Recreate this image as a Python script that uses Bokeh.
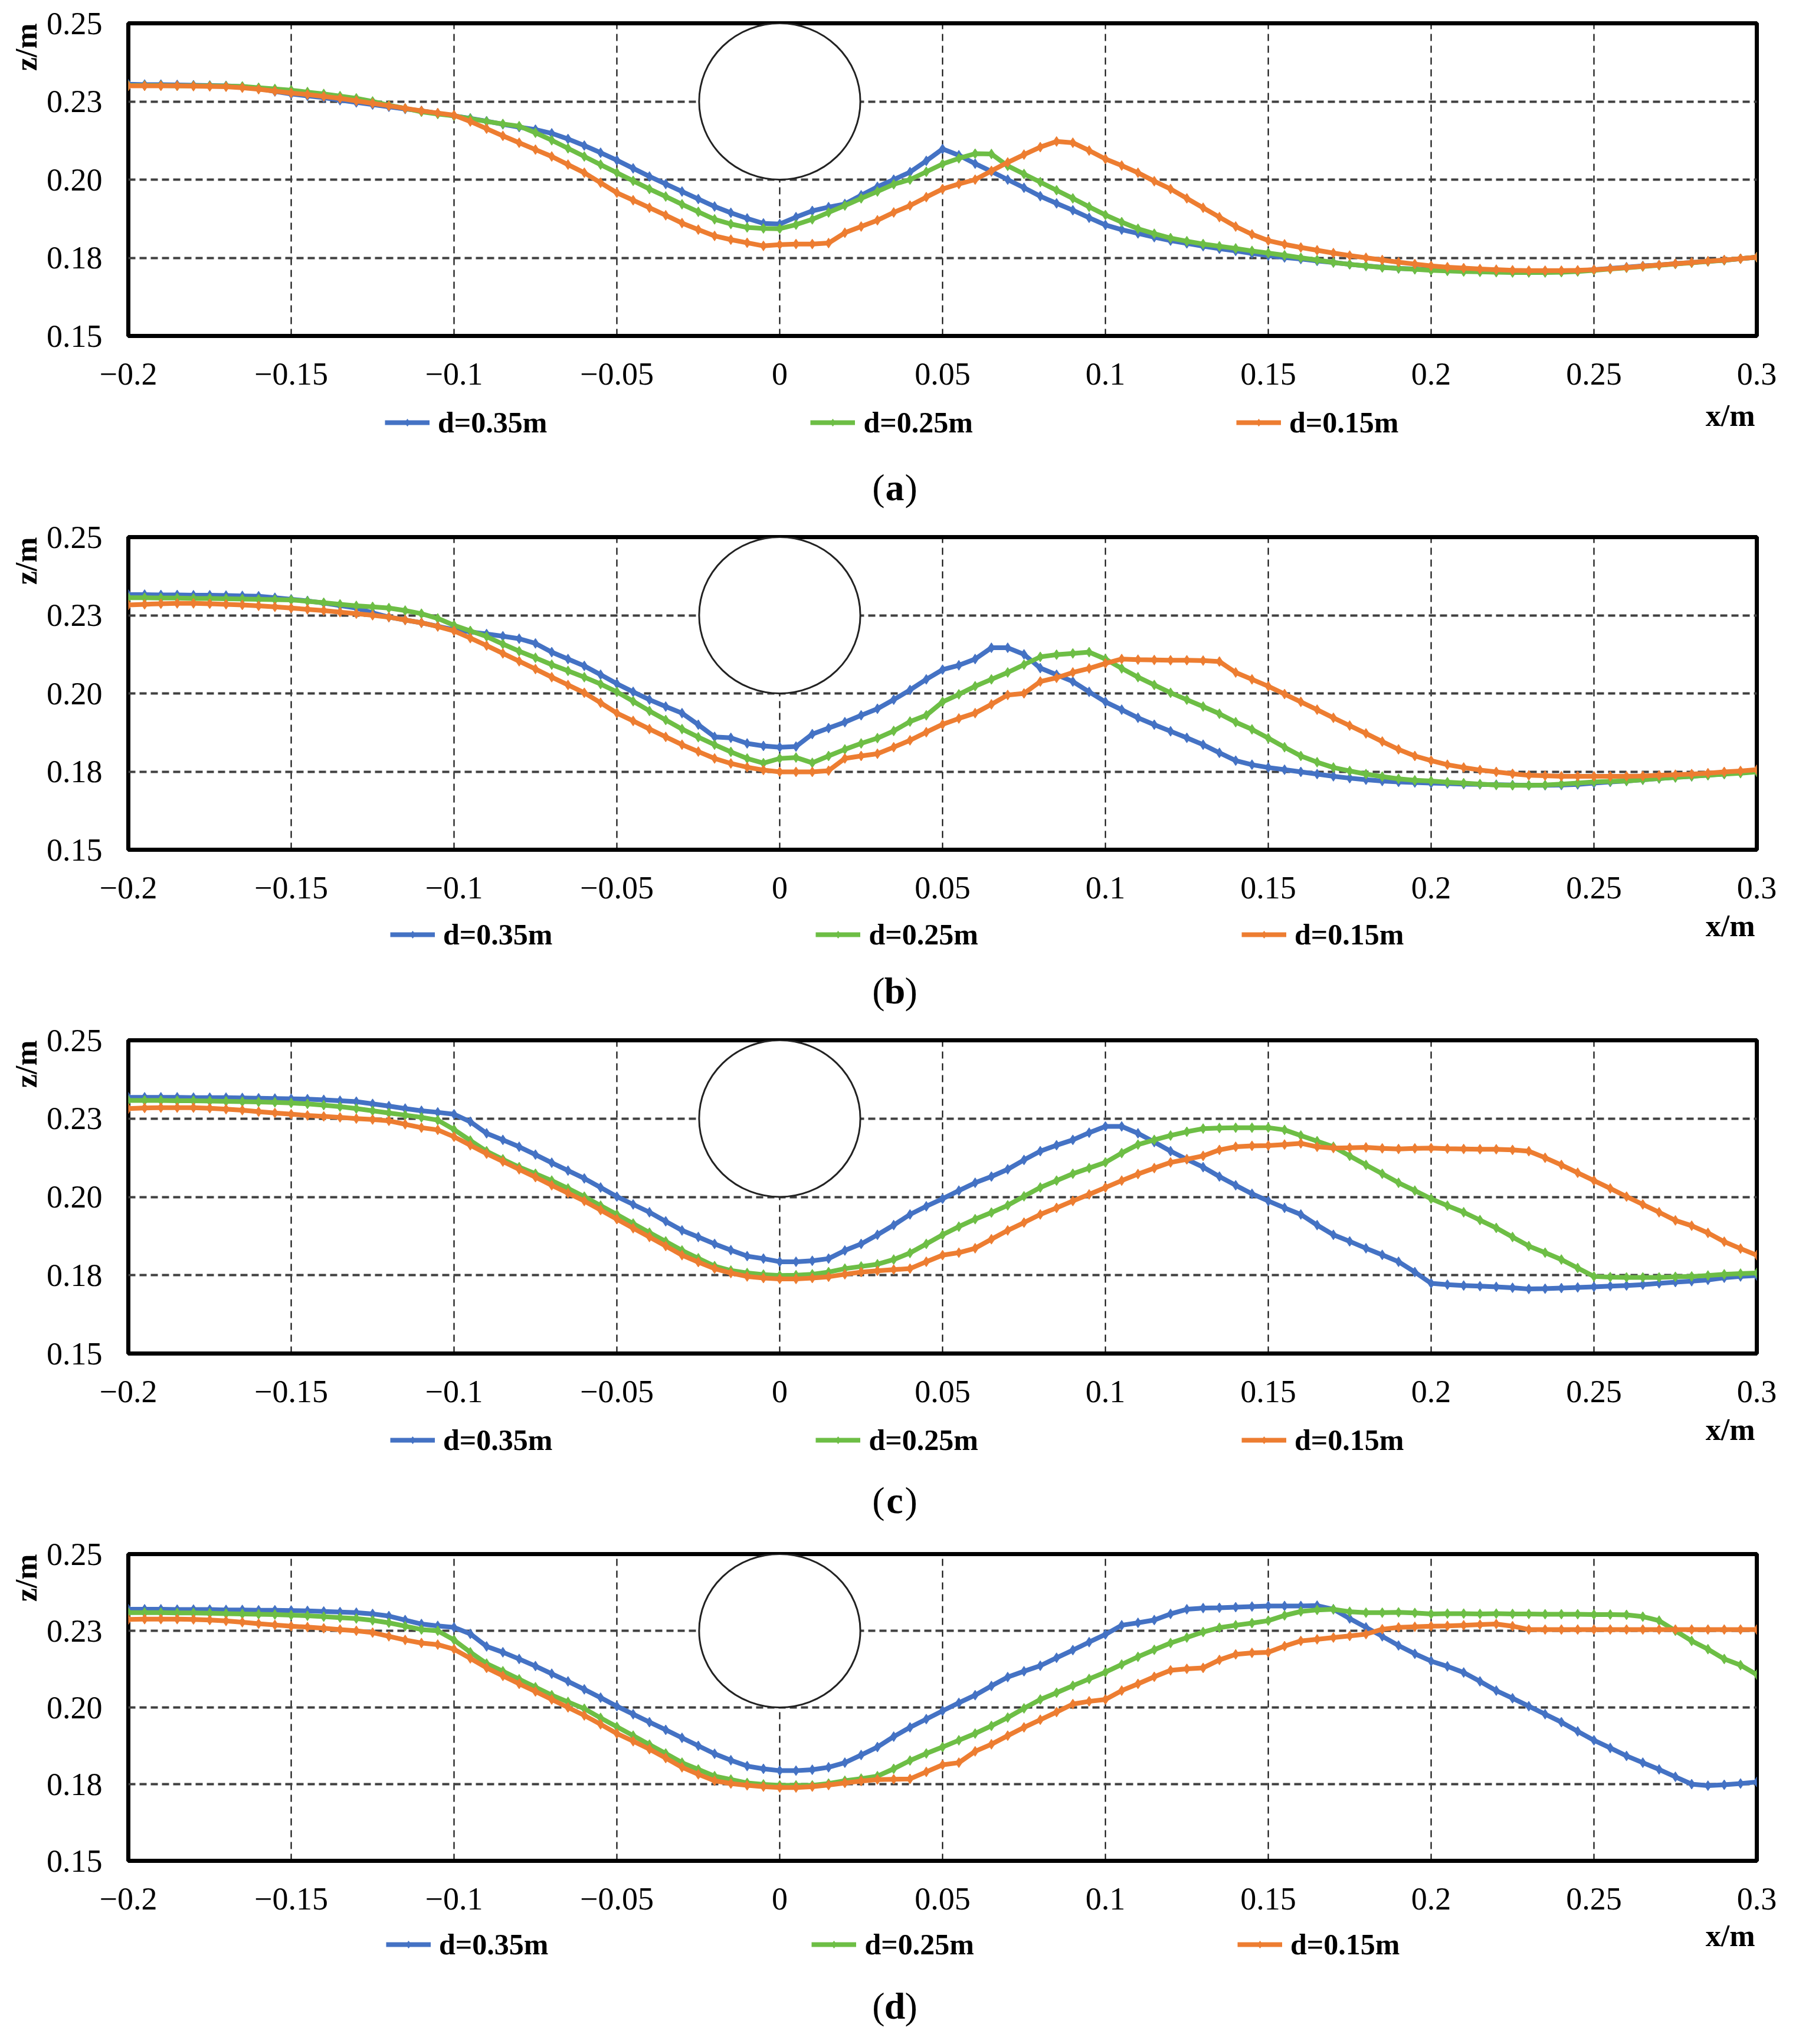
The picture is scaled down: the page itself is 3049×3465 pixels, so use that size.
from bokeh.plotting import figure
from bokeh.layouts import column
from bokeh.models import FixedTicker, Label, Range1d, Title
from bokeh.embed import file_html
from bokeh.resources import INLINE

# measuring points along the flume (m)
x_m = [
    -0.2, -0.195, -0.19, -0.185, -0.18, -0.175, -0.17, -0.165, -0.16, -0.155,
    -0.15, -0.145, -0.14, -0.135, -0.13, -0.125, -0.12, -0.115, -0.11, -0.105,
    -0.1, -0.095, -0.09, -0.085, -0.08, -0.075, -0.07, -0.065, -0.06, -0.055,
    -0.05, -0.045, -0.04, -0.035, -0.03, -0.025, -0.02, -0.015, -0.01, -0.005,
    0.0, 0.005, 0.01, 0.015, 0.02, 0.025, 0.03, 0.035, 0.04, 0.045,
    0.05, 0.055, 0.06, 0.065, 0.07, 0.075, 0.08, 0.085, 0.09, 0.095,
    0.1, 0.105, 0.11, 0.115, 0.12, 0.125, 0.13, 0.135, 0.14, 0.145,
    0.15, 0.155, 0.16, 0.165, 0.17, 0.175, 0.18, 0.185, 0.19, 0.195,
    0.2, 0.205, 0.21, 0.215, 0.22, 0.225, 0.23, 0.235, 0.24, 0.245,
    0.25, 0.255, 0.26, 0.265, 0.27, 0.275, 0.28, 0.285, 0.29, 0.295,
    0.3,
]

# (a) bed level z (m)
z_a_035 = [
    0.2305, 0.2304, 0.2304, 0.2303, 0.2302, 0.2301, 0.2300, 0.2297, 0.2292, 0.2282,
    0.2274, 0.2268, 0.2262, 0.2254, 0.2247, 0.2240, 0.2233, 0.2226, 0.2220, 0.2212,
    0.2204, 0.2196, 0.2187, 0.2177, 0.2168, 0.2160, 0.2148, 0.2130, 0.2109, 0.2086,
    0.2062, 0.2036, 0.2010, 0.1986, 0.1962, 0.1938, 0.1914, 0.1894, 0.1876, 0.1860,
    0.1858, 0.1880, 0.1900, 0.1912, 0.1922, 0.1950, 0.1977, 0.2000, 0.2024, 0.2060,
    0.2098, 0.2078, 0.2051, 0.2026, 0.2000, 0.1974, 0.1947, 0.1924, 0.1902, 0.1878,
    0.1855, 0.1840, 0.1828, 0.1816, 0.1805, 0.1796, 0.1787, 0.1779, 0.1772, 0.1764,
    0.1757, 0.1751, 0.1746, 0.1740, 0.1735, 0.1729, 0.1724, 0.1720, 0.1716, 0.1714,
    0.1712, 0.1710, 0.1709, 0.1707, 0.1706, 0.1705, 0.1705, 0.1705, 0.1706, 0.1708,
    0.1712, 0.1716, 0.1720, 0.1724, 0.1727, 0.1731, 0.1735, 0.1739, 0.1742, 0.1747,
    0.1752,
]
z_a_025 = [
    0.2301, 0.2301, 0.2301, 0.2300, 0.2300, 0.2300, 0.2299, 0.2298, 0.2294, 0.2290,
    0.2286, 0.2280, 0.2274, 0.2267, 0.2260, 0.2250, 0.2238, 0.2228, 0.2217, 0.2210,
    0.2204, 0.2195, 0.2186, 0.2178, 0.2171, 0.2150, 0.2126, 0.2100, 0.2074, 0.2048,
    0.2022, 0.1996, 0.1970, 0.1946, 0.1921, 0.1897, 0.1873, 0.1858, 0.1847, 0.1844,
    0.1843, 0.1856, 0.1873, 0.1895, 0.1917, 0.1940, 0.1962, 0.1985, 0.2000, 0.2025,
    0.2050, 0.2068, 0.2083, 0.2082, 0.2044, 0.2018, 0.1992, 0.1966, 0.1940, 0.1913,
    0.1887, 0.1864, 0.1843, 0.1827, 0.1813, 0.1803, 0.1794, 0.1787, 0.1780, 0.1772,
    0.1765, 0.1758, 0.1750, 0.1743, 0.1735, 0.1729, 0.1724, 0.1719, 0.1716, 0.1713,
    0.1710, 0.1708, 0.1706, 0.1705, 0.1704, 0.1703, 0.1703, 0.1703, 0.1704, 0.1706,
    0.1710, 0.1714, 0.1718, 0.1722, 0.1726, 0.1730, 0.1734, 0.1738, 0.1742, 0.1747,
    0.1752,
]
z_a_015 = [
    0.2300, 0.2300, 0.2300, 0.2300, 0.2299, 0.2298, 0.2297, 0.2294, 0.2289, 0.2283,
    0.2277, 0.2272, 0.2266, 0.2260, 0.2252, 0.2244, 0.2236, 0.2228, 0.2220, 0.2213,
    0.2206, 0.2186, 0.2163, 0.2140, 0.2118, 0.2096, 0.2074, 0.2048, 0.2022, 0.1990,
    0.1958, 0.1934, 0.1910, 0.1886, 0.1861, 0.1840, 0.1820, 0.1808, 0.1798, 0.1788,
    0.1792, 0.1794, 0.1794, 0.1797, 0.1830, 0.1850, 0.1870, 0.1895, 0.1917, 0.1944,
    0.1970, 0.1986, 0.2000, 0.2028, 0.2055, 0.2080, 0.2104, 0.2122, 0.2118, 0.2093,
    0.2066, 0.2045, 0.2022, 0.1995, 0.1970, 0.1940, 0.1910, 0.1880, 0.1850, 0.1825,
    0.1805, 0.1793, 0.1783, 0.1774, 0.1765, 0.1757, 0.1750, 0.1743, 0.1736, 0.1730,
    0.1724, 0.1720, 0.1717, 0.1714, 0.1712, 0.1710, 0.1709, 0.1709, 0.1709, 0.1710,
    0.1712, 0.1715, 0.1719, 0.1723, 0.1727, 0.1731, 0.1735, 0.1739, 0.1743, 0.1747,
    0.1752,
]

# (b)
z_b_035 = [
    0.2316, 0.2316, 0.2315, 0.2315, 0.2314, 0.2314, 0.2313, 0.2312, 0.2311, 0.2306,
    0.2301, 0.2296, 0.2289, 0.2281, 0.2273, 0.2258, 0.2244, 0.2235, 0.2226, 0.2215,
    0.2204, 0.2197, 0.2190, 0.2183, 0.2175, 0.2160, 0.2132, 0.2110, 0.2088, 0.2060,
    0.2031, 0.2005, 0.1980, 0.1958, 0.1937, 0.1900, 0.1861, 0.1858, 0.1840, 0.1832,
    0.1828, 0.1830, 0.1870, 0.1889, 0.1908, 0.1930, 0.1951, 0.1980, 0.2011, 0.2045,
    0.2076, 0.2090, 0.2110, 0.2146, 0.2146, 0.2125, 0.2081, 0.2060, 0.2038, 0.2005,
    0.1973, 0.1948, 0.1922, 0.1900, 0.1879, 0.1858, 0.1836, 0.1810, 0.1785, 0.1772,
    0.1763, 0.1756, 0.1749, 0.1742, 0.1735, 0.1729, 0.1724, 0.1720, 0.1717, 0.1715,
    0.1713, 0.1712, 0.1710, 0.1709, 0.1708, 0.1707, 0.1706, 0.1706, 0.1707, 0.1709,
    0.1713, 0.1717, 0.1720, 0.1724, 0.1728, 0.1732, 0.1735, 0.1739, 0.1742, 0.1748,
    0.1753,
]
z_b_025 = [
    0.2306, 0.2306, 0.2305, 0.2305, 0.2304, 0.2304, 0.2303, 0.2302, 0.2301, 0.2300,
    0.2299, 0.2295, 0.2290, 0.2285, 0.2280, 0.2277, 0.2273, 0.2265, 0.2255, 0.2240,
    0.2218, 0.2200, 0.2182, 0.2158, 0.2135, 0.2114, 0.2092, 0.2072, 0.2052, 0.2030,
    0.2005, 0.1975, 0.1944, 0.1915, 0.1886, 0.1860, 0.1836, 0.1813, 0.1792, 0.1777,
    0.1792, 0.1795, 0.1778, 0.1800, 0.1821, 0.1840, 0.1857, 0.1880, 0.1910, 0.1930,
    0.1973, 0.1997, 0.2023, 0.2045, 0.2067, 0.2092, 0.2117, 0.2124, 0.2128, 0.2132,
    0.2110, 0.2080, 0.2052, 0.2027, 0.2002, 0.1980, 0.1958, 0.1935, 0.1908, 0.1885,
    0.1857, 0.1828, 0.1800, 0.1780, 0.1763, 0.1752, 0.1742, 0.1734, 0.1727, 0.1722,
    0.1720, 0.1716, 0.1713, 0.1710, 0.1707, 0.1706, 0.1706, 0.1707, 0.1710, 0.1713,
    0.1717, 0.1719, 0.1720, 0.1724, 0.1728, 0.1731, 0.1735, 0.1738, 0.1742, 0.1745,
    0.1749,
]
z_b_015 = [
    0.2283, 0.2285, 0.2287, 0.2288, 0.2288, 0.2287, 0.2285, 0.2283, 0.2280, 0.2277,
    0.2273, 0.2269, 0.2265, 0.2260, 0.2255, 0.2250, 0.2244, 0.2235, 0.2226, 0.2214,
    0.2200, 0.2177, 0.2153, 0.2128, 0.2103, 0.2078, 0.2052, 0.2027, 0.2002, 0.1970,
    0.1937, 0.1912, 0.1886, 0.1861, 0.1836, 0.1814, 0.1792, 0.1776, 0.1764, 0.1755,
    0.1749, 0.1749, 0.1749, 0.1753, 0.1792, 0.1800, 0.1807, 0.1828, 0.1850, 0.1876,
    0.1901, 0.1920, 0.1937, 0.1965, 0.1995, 0.2000, 0.2038, 0.2050, 0.2067, 0.2080,
    0.2096, 0.2110, 0.2108, 0.2107, 0.2106, 0.2106, 0.2105, 0.2102, 0.2067, 0.2045,
    0.2023, 0.1998, 0.1973, 0.1948, 0.1922, 0.1897, 0.1872, 0.1846, 0.1821, 0.1800,
    0.1785, 0.1772, 0.1763, 0.1755, 0.1749, 0.1743, 0.1738, 0.1737, 0.1735, 0.1735,
    0.1735, 0.1735, 0.1735, 0.1736, 0.1738, 0.1740, 0.1742, 0.1745, 0.1749, 0.1752,
    0.1756,
]

# (c)
z_c_035 = [
    0.2318, 0.2318, 0.2318, 0.2318, 0.2317, 0.2317, 0.2317, 0.2316, 0.2315, 0.2314,
    0.2313, 0.2312, 0.2310, 0.2307, 0.2304, 0.2297, 0.2290, 0.2282, 0.2275, 0.2270,
    0.2264, 0.2240, 0.2203, 0.2182, 0.2160, 0.2135, 0.2109, 0.2084, 0.2059, 0.2030,
    0.2001, 0.1976, 0.1951, 0.1922, 0.1893, 0.1872, 0.1850, 0.1830, 0.1811, 0.1803,
    0.1793, 0.1793, 0.1796, 0.1803, 0.1829, 0.1850, 0.1879, 0.1910, 0.1944, 0.1970,
    0.1994, 0.2020, 0.2045, 0.2065, 0.2088, 0.2118, 0.2146, 0.2165, 0.2182, 0.2205,
    0.2225, 0.2225, 0.2203, 0.2175, 0.2146, 0.2120, 0.2095, 0.2065, 0.2037, 0.2010,
    0.1987, 0.1965, 0.1944, 0.1910, 0.1879, 0.1858, 0.1836, 0.1815, 0.1793, 0.1760,
    0.1724, 0.1720, 0.1717, 0.1715, 0.1713, 0.1710, 0.1706, 0.1707, 0.1709, 0.1711,
    0.1713, 0.1715, 0.1717, 0.1720, 0.1724, 0.1728, 0.1731, 0.1735, 0.1742, 0.1746,
    0.1749,
]
z_c_025 = [
    0.2308, 0.2308, 0.2308, 0.2307, 0.2307, 0.2306, 0.2305, 0.2304, 0.2303, 0.2302,
    0.2300, 0.2297, 0.2293, 0.2288, 0.2282, 0.2275, 0.2268, 0.2261, 0.2254, 0.2245,
    0.2215, 0.2180, 0.2146, 0.2120, 0.2095, 0.2074, 0.2052, 0.2027, 0.2001, 0.1972,
    0.1944, 0.1915, 0.1886, 0.1858, 0.1829, 0.1804, 0.1779, 0.1765, 0.1757, 0.1752,
    0.1749, 0.1750, 0.1753, 0.1760, 0.1771, 0.1778, 0.1785, 0.1800, 0.1821, 0.1850,
    0.1879, 0.1905, 0.1929, 0.1950, 0.1973, 0.2002, 0.2030, 0.2052, 0.2074, 0.2092,
    0.2110, 0.2140, 0.2167, 0.2182, 0.2196, 0.2208, 0.2218, 0.2220, 0.2221, 0.2221,
    0.2221, 0.2214, 0.2196, 0.2178, 0.2160, 0.2131, 0.2102, 0.2074, 0.2045, 0.2020,
    0.1994, 0.1972, 0.1951, 0.1926, 0.1901, 0.1872, 0.1843, 0.1822, 0.1800, 0.1773,
    0.1746, 0.1744, 0.1743, 0.1743, 0.1743, 0.1745, 0.1746, 0.1749, 0.1753, 0.1755,
    0.1757,
]
z_c_015 = [
    0.2282, 0.2284, 0.2285, 0.2285, 0.2285, 0.2283, 0.2280, 0.2277, 0.2272, 0.2268,
    0.2264, 0.2260, 0.2257, 0.2254, 0.2250, 0.2247, 0.2243, 0.2232, 0.2221, 0.2214,
    0.2192, 0.2165, 0.2138, 0.2113, 0.2088, 0.2063, 0.2037, 0.2012, 0.1987, 0.1958,
    0.1929, 0.1900, 0.1872, 0.1843, 0.1814, 0.1792, 0.1771, 0.1757, 0.1746, 0.1741,
    0.1738, 0.1738, 0.1741, 0.1745, 0.1753, 0.1760, 0.1764, 0.1768, 0.1771, 0.1793,
    0.1814, 0.1822, 0.1836, 0.1865, 0.1893, 0.1918, 0.1944, 0.1965, 0.1987, 0.2008,
    0.2030, 0.2052, 0.2073, 0.2092, 0.2110, 0.2120, 0.2131, 0.2150, 0.2160, 0.2163,
    0.2164, 0.2167, 0.2171, 0.2160, 0.2156, 0.2157, 0.2158, 0.2155, 0.2153, 0.2155,
    0.2156, 0.2154, 0.2153, 0.2152, 0.2152, 0.2150, 0.2146, 0.2125, 0.2102, 0.2077,
    0.2052, 0.2027, 0.2001, 0.1976, 0.1951, 0.1925, 0.1908, 0.1885, 0.1857, 0.1835,
    0.1814,
]

# (d)
z_d_035 = [
    0.2320, 0.2320, 0.2320, 0.2319, 0.2319, 0.2319, 0.2318, 0.2318, 0.2317, 0.2317,
    0.2316, 0.2315, 0.2313, 0.2311, 0.2309, 0.2305, 0.2298, 0.2285, 0.2272, 0.2266,
    0.2261, 0.2240, 0.2199, 0.2180, 0.2158, 0.2135, 0.2110, 0.2085, 0.2059, 0.2032,
    0.2004, 0.1978, 0.1952, 0.1927, 0.1901, 0.1875, 0.1849, 0.1828, 0.1809, 0.1800,
    0.1794, 0.1794, 0.1797, 0.1805, 0.1820, 0.1845, 0.1871, 0.1905, 0.1935, 0.1962,
    0.1989, 0.2015, 0.2040, 0.2070, 0.2099, 0.2118, 0.2136, 0.2162, 0.2187, 0.2213,
    0.2238, 0.2268, 0.2276, 0.2285, 0.2305, 0.2320, 0.2324, 0.2325, 0.2327, 0.2329,
    0.2331, 0.2331, 0.2331, 0.2332, 0.2320, 0.2290, 0.2261, 0.2232, 0.2202, 0.2175,
    0.2151, 0.2134, 0.2114, 0.2085, 0.2055, 0.2030, 0.2004, 0.1978, 0.1952, 0.1922,
    0.1893, 0.1868, 0.1842, 0.1820, 0.1798, 0.1774, 0.1750, 0.1745, 0.1748, 0.1752,
    0.1757,
]
z_d_025 = [
    0.2309, 0.2309, 0.2309, 0.2308, 0.2308, 0.2307, 0.2306, 0.2305, 0.2304, 0.2303,
    0.2301, 0.2299, 0.2296, 0.2293, 0.2290, 0.2284, 0.2276, 0.2265, 0.2254, 0.2250,
    0.2220, 0.2180, 0.2143, 0.2118, 0.2092, 0.2066, 0.2040, 0.2018, 0.1996, 0.1966,
    0.1937, 0.1908, 0.1879, 0.1850, 0.1820, 0.1798, 0.1776, 0.1765, 0.1754, 0.1749,
    0.1746, 0.1746, 0.1746, 0.1752, 0.1761, 0.1768, 0.1776, 0.1800, 0.1827, 0.1850,
    0.1871, 0.1893, 0.1915, 0.1940, 0.1967, 0.1997, 0.2026, 0.2048, 0.2071, 0.2093,
    0.2115, 0.2140, 0.2165, 0.2188, 0.2210, 0.2228, 0.2246, 0.2260, 0.2268, 0.2275,
    0.2283, 0.2300, 0.2313, 0.2318, 0.2320, 0.2312, 0.2309, 0.2309, 0.2310, 0.2308,
    0.2305, 0.2306, 0.2306, 0.2305, 0.2306, 0.2305, 0.2305, 0.2304, 0.2304, 0.2304,
    0.2303, 0.2303, 0.2302, 0.2296, 0.2283, 0.2250, 0.2217, 0.2190, 0.2158, 0.2138,
    0.2107,
]
z_d_015 = [
    0.2287, 0.2288, 0.2288, 0.2288, 0.2287, 0.2285, 0.2282, 0.2278, 0.2273, 0.2269,
    0.2265, 0.2262, 0.2258, 0.2254, 0.2250, 0.2244, 0.2232, 0.2220, 0.2210, 0.2205,
    0.2190, 0.2160, 0.2129, 0.2103, 0.2077, 0.2052, 0.2026, 0.2000, 0.1974, 0.1945,
    0.1915, 0.1890, 0.1864, 0.1835, 0.1805, 0.1782, 0.1761, 0.1752, 0.1746, 0.1742,
    0.1739, 0.1739, 0.1742, 0.1747, 0.1754, 0.1760, 0.1765, 0.1766, 0.1767, 0.1790,
    0.1813, 0.1820, 0.1857, 0.1880, 0.1908, 0.1935, 0.1960, 0.1985, 0.2011, 0.2020,
    0.2026, 0.2055, 0.2077, 0.2100, 0.2121, 0.2126, 0.2129, 0.2155, 0.2173, 0.2178,
    0.2180, 0.2200, 0.2217, 0.2222, 0.2228, 0.2233, 0.2239, 0.2255, 0.2261, 0.2263,
    0.2265, 0.2266, 0.2268, 0.2270, 0.2272, 0.2265, 0.2254, 0.2254, 0.2254, 0.2254,
    0.2254, 0.2254, 0.2254, 0.2254, 0.2254, 0.2254, 0.2254, 0.2254, 0.2254, 0.2254,
    0.2254,
]

series_names = ["d=0.35m", "d=0.25m", "d=0.15m"]
series_colors = ["#4472C4", "#6DBE45", "#ED7D31"]

x_ticks = [-0.2, -0.15, -0.1, -0.05, 0, 0.05, 0.1, 0.15, 0.2, 0.25, 0.3]
x_tick_labels = ["\u22120.2", "\u22120.15", "\u22120.1", "\u22120.05", "0", "0.05",
                 "0.1", "0.15", "0.2", "0.25", "0.3"]
y_ticks = [0.15, 0.175, 0.2, 0.225, 0.25]
y_tick_labels = ["0.15", "0.18", "0.20", "0.23", "0.25"]

# pipe section (centre and size in m)
pipe_x = 0.0
pipe_z = 0.225
pipe_w = 0.0495
pipe_h = 0.05

panels = [
    ("a", [z_a_035, z_a_025, z_a_015]),
    ("b", [z_b_035, z_b_025, z_b_015]),
    ("c", [z_c_035, z_c_025, z_c_015]),
    ("d", [z_d_035, z_d_025, z_d_015]),
]

# page pixel placement of each panel:
# frame top, bottom, figure start, end,
# legend x, legend / x-label / caption distance below the frame
boxes = [
    (47, 577, 8, 876, 660, 148, 135, 257),
    (918, 1448, 876, 1732, 669, 145, 129, 239),
    (1771, 2302, 1732, 2600, 669, 148, 129, 249),
    (2642, 3162, 2600, 3457, 662, 143, 127, 246),
]

FONT = "Liberation Serif"
W = 3033
LEFT = 225
RIGHT = 2985
PAGE_CX = 1524
AXIS_PAD = 100


def make_panel(zs, box):
    top, bottom, start = box[:3]
    p = figure(width=W, height=bottom + AXIS_PAD - start,
               x_range=Range1d(-0.2, 0.3), y_range=Range1d(0.15, 0.25),
               output_backend="svg", toolbar_location=None,
               min_border_left=LEFT - 8, min_border_right=W - (RIGHT - 8),
               min_border_top=top - start, min_border_bottom=AXIS_PAD)
    p.outline_line_color = "black"
    p.outline_line_width = 7

    xt = FixedTicker(ticks=x_ticks)
    yt = FixedTicker(ticks=y_ticks)
    p.xaxis.ticker = xt
    p.yaxis.ticker = yt
    p.xgrid.ticker = xt
    p.ygrid.ticker = yt
    p.xaxis.major_label_overrides = dict(zip(x_ticks, x_tick_labels))
    p.yaxis.major_label_overrides = dict(zip(y_ticks, y_tick_labels))
    for ax in (p.xaxis, p.yaxis):
        ax.axis_line_color = None
        ax.major_tick_line_color = None
        ax.minor_tick_line_color = None
        ax.major_label_text_font = FONT
        ax.major_label_text_font_size = "54px"
        ax.major_label_text_color = "black"
    p.xaxis.major_label_standoff = 40
    p.yaxis.major_label_standoff = 38

    p.xgrid.grid_line_color = "black"
    p.xgrid.grid_line_width = 2
    p.xgrid.grid_line_dash = "12 8"
    p.ygrid.grid_line_color = "#404040"
    p.ygrid.grid_line_width = 4
    p.ygrid.grid_line_dash = "12 7"

    p.add_layout(Title(text="z/m", align="right", text_font=FONT,
                       text_font_size="52px", text_font_style="bold",
                       text_color="black", standoff=6), "left")

    p.ellipse(x=[pipe_x], y=[pipe_z], width=pipe_w, height=pipe_h,
              fill_color="white", line_color="#222222", line_width=3)

    for z, col in zip(zs, series_colors):
        p.line(x_m, z, line_color=col, line_width=8)
        p.scatter(x_m, z, marker="diamond", size=17, fill_color=col,
                  line_color=col)
    return p


def make_strip(tag, zs, box):
    # strip under a panel (legend, x label, caption), axes in page pixels
    top, bottom, start, end, leg_x, leg_dy, xl_dy, cap_dy = box
    y0 = bottom + AXIS_PAD
    s = figure(width=W, height=end - y0,
               x_range=Range1d(LEFT, RIGHT), y_range=Range1d(end, y0),
               x_axis_type=None, y_axis_type=None,
               output_backend="svg", toolbar_location=None,
               min_border_left=LEFT - 8, min_border_right=W - (RIGHT - 8),
               min_border_top=0, min_border_bottom=0)
    s.outline_line_color = None

    # same series as the panel; they fall outside this strip's ranges,
    # so only their legend entries show
    for z, name, col in zip(zs, series_names, series_colors):
        s.line(x_m, z, line_color=col, line_width=8, legend_label=name)
        s.scatter(x_m, z, marker="diamond", size=17, fill_color=col,
                  line_color=col, legend_label=name)
    lg = s.legend[0]
    lg.location = (leg_x - LEFT, end - (bottom + leg_dy) - 28)
    lg.orientation = "horizontal"
    lg.glyph_width = 76
    lg.glyph_height = 30
    lg.label_standoff = 14
    lg.spacing = 446
    lg.padding = 0
    lg.margin = 0
    lg.border_line_color = None
    lg.background_fill_alpha = 0
    lg.label_text_font = FONT
    lg.label_text_font_style = "bold"
    lg.label_text_font_size = "50px"
    lg.label_text_color = "black"

    def text(t, x, y, size, style="bold", align="center"):
        s.add_layout(Label(x=x, y=y, text=t, text_font=FONT,
                           text_font_size=size, text_font_style=style,
                           text_align=align, text_baseline="middle",
                           text_color="black"))

    text("x/m", RIGHT - 3, bottom + xl_dy, "52px", align="right")
    text("(", PAGE_CX - 17, bottom + cap_dy, "64px", "normal", "right")
    text(tag, PAGE_CX, bottom + cap_dy, "64px")
    text(")", PAGE_CX + 17, bottom + cap_dy, "64px", "normal", "left")
    return s


parts = []
for (tag, zs), box in zip(panels, boxes):
    parts.append(make_panel(zs, box))
    parts.append(make_strip(tag, zs, box))
page = column(*parts, spacing=0)

open("out.html", "w").write(file_html(page, INLINE))
